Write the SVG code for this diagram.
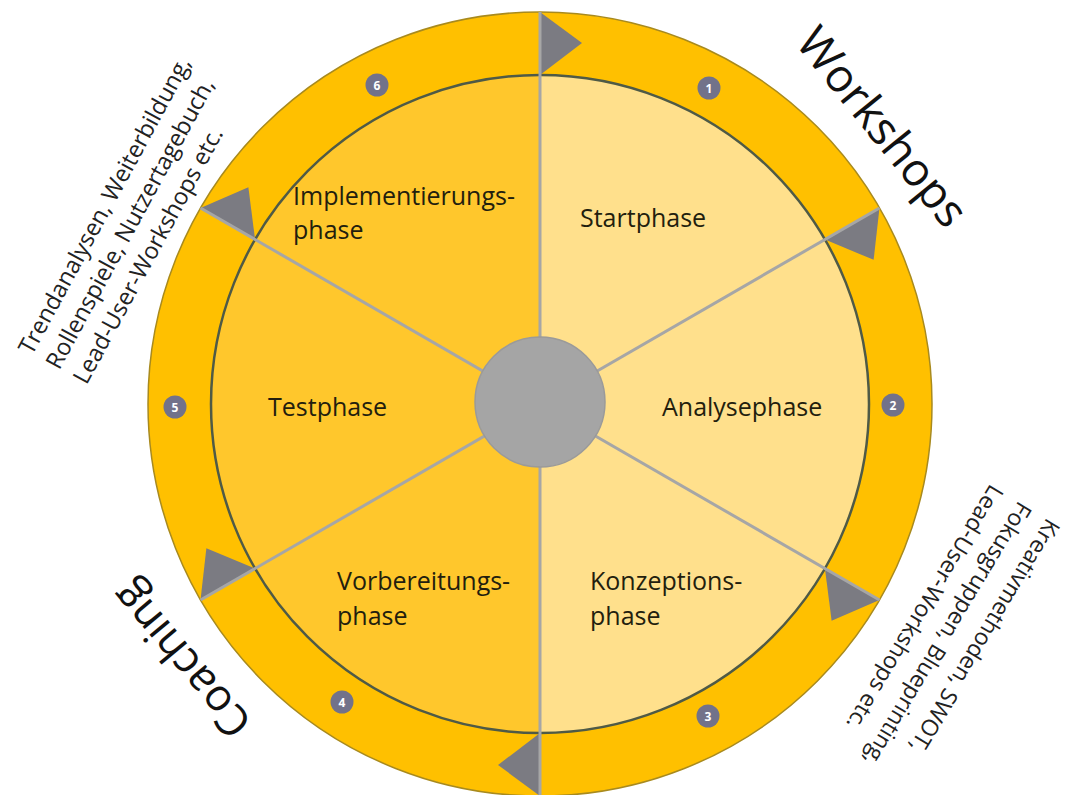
<svg xmlns="http://www.w3.org/2000/svg" xmlns:xlink="http://www.w3.org/1999/xlink" width="1071" height="795" viewBox="0 0 1071 795">
<style>
.phase{font-family:"Open Sans","Liberation Sans",sans-serif;font-size:25px;fill:#231e0e}
.big{font-family:"Open Sans","Liberation Sans",sans-serif;fill:#111}
.side{font-family:"Open Sans","Liberation Sans",sans-serif;fill:#222}
.num circle{fill:#72728a}
.num text{font-family:"Open Sans","Liberation Sans",sans-serif;font-size:12px;font-weight:bold;fill:#fff;text-anchor:middle}
.spoke{stroke:#a6a6a6;stroke-width:3}
.tri{fill:#7b7b82}
</style>
<defs>
<polygon id="tri" points="0,-392 0,-329 42,-361"/>
</defs>
<rect width="1071" height="795" fill="#fff"/>
<g id="ring">
<circle cx="540" cy="404" r="392" fill="#ffc000" stroke="#a88a1e" stroke-width="1.5"/>
</g>
<g id="sectors">
<path d="M540,404 L540,75 A329,329 0 0 1 540,733 Z" fill="#ffe08c"/>
<path d="M540,404 L540,733 A329,329 0 0 1 540,75 Z" fill="#ffc72c"/>
<circle cx="540" cy="404" r="329" fill="none" stroke="#4f5a46" stroke-width="2.5"/>
</g>
<g id="markers" class="tri">
<use xlink:href="#tri" href="#tri" transform="translate(540,404)"/>
<use xlink:href="#tri" href="#tri" transform="translate(540,404) rotate(60)"/>
<use xlink:href="#tri" href="#tri" transform="translate(540,404) rotate(120)"/>
<use xlink:href="#tri" href="#tri" transform="translate(540,404) rotate(180)"/>
<use xlink:href="#tri" href="#tri" transform="translate(540,404) rotate(240)"/>
<use xlink:href="#tri" href="#tri" transform="translate(540,404) rotate(300)"/>
</g>
<g id="connectors" class="spoke">
<line x1="540" y1="404" x2="540" y2="12"/>
<line x1="540" y1="404" x2="540" y2="796"/>
<line x1="540" y1="404" x2="879.5" y2="208"/>
<line x1="540" y1="404" x2="879.5" y2="600"/>
<line x1="540" y1="404" x2="200.5" y2="208"/>
<line x1="540" y1="404" x2="200.5" y2="600"/>
</g>
<g id="hub">
<circle cx="540" cy="402" r="65" fill="#a5a5a5" stroke="#9a9a9a" stroke-width="1.5"/>
</g>
<g id="phase-start"><text class="phase" x="580" y="227">Startphase</text></g>
<g id="phase-analyse"><text class="phase" x="662" y="416">Analysephase</text></g>
<g id="phase-konzeption"><text class="phase" x="590" y="590">Konzeptions-<tspan x="590" y="625">phase</tspan></text></g>
<g id="phase-vorbereitung"><text class="phase" x="337" y="590">Vorbereitungs-<tspan x="337" y="625">phase</tspan></text></g>
<g id="phase-test"><text class="phase" x="268" y="416">Testphase</text></g>
<g id="phase-implementierung"><text class="phase" x="293" y="205">Implementierungs-<tspan x="293" y="239">phase</tspan></text></g>
<g id="num1" class="num"><circle cx="709" cy="88" r="11.5"/><text x="709" y="92.5">1</text></g>
<g id="num2" class="num"><circle cx="893" cy="405" r="11.5"/><text x="893" y="409.5">2</text></g>
<g id="num3" class="num"><circle cx="708" cy="716" r="11.5"/><text x="708" y="720.5">3</text></g>
<g id="num4" class="num"><circle cx="342" cy="702" r="11.5"/><text x="342" y="706.5">4</text></g>
<g id="num5" class="num"><circle cx="175" cy="407" r="11.5"/><text x="175" y="411.5">5</text></g>
<g id="num6" class="num"><circle cx="377" cy="85" r="11.5"/><text x="377" y="89.5">6</text></g>
<g id="label-workshops"><text class="big" font-size="46" text-anchor="middle" transform="translate(870,137) rotate(51)">Workshops</text></g>
<g id="label-coaching"><text class="big" font-size="44" text-anchor="middle" transform="translate(193,650) rotate(230)">Coaching</text></g>
<g id="methods-coaching"><text class="side" font-size="23.5" transform="translate(32,356) rotate(-61.5)"><tspan x="0" y="0">Trendanalysen, Weiterbildung,</tspan><tspan x="0" y="31">Rollenspiele, Nutzertagebuch,</tspan><tspan x="0" y="62">Lead-User-Workshops etc.</tspan></text></g>
<g id="methods-workshops"><text class="side" font-size="23" transform="translate(1047,517) rotate(121)"><tspan x="0" y="0">Kreativmethoden, SWOT,</tspan><tspan x="0" y="33">Fokusgruppen, Blueprinting,</tspan><tspan x="0" y="66">Lead-User-Workshops etc.</tspan></text></g>
</svg>
